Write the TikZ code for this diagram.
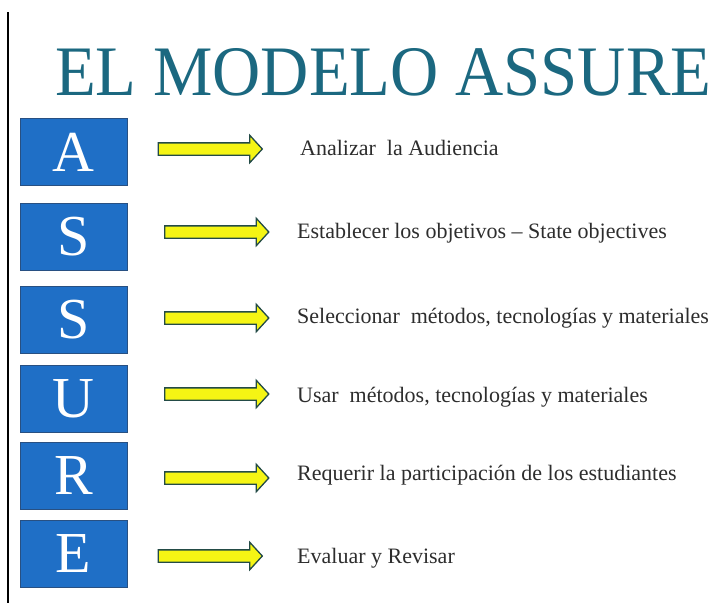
\documentclass[tikz,border=0pt]{standalone}
\usepackage{fontspec}
\setmainfont{Liberation Serif}
\usepackage{tikz}
\usetikzlibrary{shapes.arrows}

\definecolor{titleteal}{RGB}{27,104,128}
\definecolor{boxblue}{RGB}{31,111,198}
\definecolor{boxedge}{RGB}{40,80,130}
\definecolor{arrowyel}{RGB}{245,245,20}
\definecolor{arrowedge}{RGB}{35,75,70}
\definecolor{txtgray}{RGB}{45,45,45}

\begin{document}
\begin{tikzpicture}[x=1pt,y=-1pt]
\tikzstyle{box}=[minimum width=107pt,minimum height=67pt,draw=boxedge,line width=1pt,fill=boxblue,text=white,inner sep=0pt,font=\fontsize{58}{58}\selectfont];
\tikzstyle{yarrow}=[single arrow,draw=arrowedge,line width=1.3pt,fill=arrowyel,minimum height=104pt,minimum width=27pt,single arrow head extend=7.5pt,single arrow tip angle=95,inner xsep=0pt,inner ysep=5.5pt];
\tikzstyle{inst}=[anchor=base west,text=txtgray,inner sep=0pt,font=\fontsize{22}{22}\selectfont];

\useasboundingbox (0,0) rectangle (721,603);

\coordinate (top) at (8,12);
\coordinate (bot) at (8,603);
\draw [line width=1.5pt] (top) -- (bot);

\node [anchor=base west,inner sep=0pt,text=titleteal,font=\fontsize{71}{71}\selectfont] (title) at (55,95) {\scalebox{0.94}[1]{EL MODELO ASSURE}};

\node [box] (bA) at (73.5,152) {A};
\node [box] (bS1) at (73.5,236.5) {S};
\node [box] (bS2) at (73.5,320) {S};
\node [box] (bU) at (73.5,398.5) {U};
\node [box] (bR) at (73.5,476) {R};
\node [box] (bE) at (73.5,554) {E};

\node [yarrow] (aA) at (207.5,149) {};
\node [yarrow] (aS1) at (214,232) {};
\node [yarrow] (aS2) at (214,318) {};
\node [yarrow] (aU) at (214,394) {};
\node [yarrow] (aR) at (214,478) {};
\node [yarrow] (aE) at (207.5,556) {};

\node [inst] (tA) at (300,155) {Analizar\ \ la Audiencia};
\node [inst] (tS1) at (297,238) {Establecer los objetivos – State objectives};
\node [inst] (tS2) at (297,323) {Seleccionar\ \ métodos, tecnologías y materiales};
\node [inst] (tU) at (297,402) {Usar\ \ métodos, tecnologías y materiales};
\node [inst] (tR) at (297,480) {Requerir la participación de los estudiantes};
\node [inst] (tE) at (297,563) {Evaluar y Revisar};
\end{tikzpicture}
\end{document}
